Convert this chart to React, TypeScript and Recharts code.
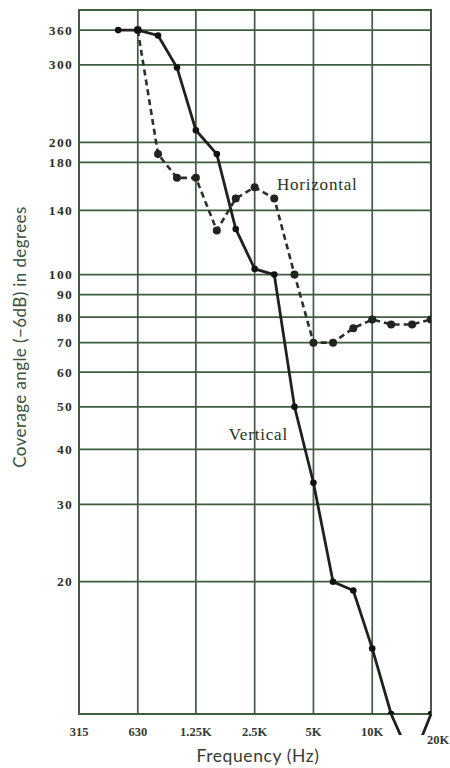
import React from 'react';
import { LineChart, Line, XAxis, YAxis, CartesianGrid, ReferenceArea, ReferenceDot } from 'recharts';

const frequencies = [500, 630, 800, 1000, 1250, 1600, 2000, 2500, 3150, 4000, 5000, 6300, 8000, 10000, 12500, 16000, 20000];
const verticalAngles = [360, 360, 350, 296, 213, 188, 127, 103, 100, 50, 33.6, 20, 19.1, 14.1, 10, 7.8, 10];
const horizontalAngles: (number | null)[] = [null, 360, 188, 166, 166, 126, 149, 158, 149, 100, 70, 70, 75.5, 79, 77, 77, 79];

const xTicks = [315, 630, 1250, 2500, 5000, 10000, 20000];
const xTickLabels = ['315', '630', '1.25K', '2.5K', '5K', '10K', '20K'];
const yTicks = [20, 30, 40, 50, 60, 70, 80, 90, 100, 140, 180, 200, 300, 360];

const xDomain = [315, 20000];
const yDomain = [10, 400];

const labelHorizontal = { f: 3250, angle: 161, text: 'Horizontal' };
const labelVertical = { f: 1840, angle: 43.4, text: 'Vertical' };

const data = frequencies.map((f, i) => ({ f, v: verticalAngles[i], h: horizontalAngles[i] }));

const GRID = '#3f5c3f';
const INK = '#1e211e';
const FONT = '"Liberation Serif", "DejaVu Serif", serif';
const TITLE_FONT = 'Lato, "Open Sans", sans-serif';

const XTick = (props: any) => {
  const { x, y, payload } = props;
  const idx = xTicks.indexOf(payload.value);
  const label = idx >= 0 ? xTickLabels[idx] : String(payload.value);
  const last = payload.value === 20000;
  return (
    <text x={x + (last ? 7 : 0)} y={y + (last ? 28 : 20)} textAnchor="middle" fontFamily={FONT} fontSize={12.5} fontWeight={700} fill="#333a33">
      {label}
    </text>
  );
};

const YTick = (props: any) => {
  const { x, y, payload } = props;
  return (
    <text x={x} y={y + 4.5} textAnchor="end" fontFamily={FONT} fontSize={13.5} fontWeight={700} fill="#2c332c" letterSpacing={1.3}>
      {payload.value}
    </text>
  );
};

const makeDot = (r: number, color: string) => (p: any) => {
  const key = `dot-${p.dataKey}-${p.index}`;
  if (p.cy == null || p.value == null || p.value < 10 || p.cx == null) return <g key={key} />;
  return <circle key={key} cx={p.cx} cy={p.cy} r={r} fill={color} stroke="none" />;
};

const textShape = (text: string) => (p: any) => (
  <text x={p.cx} y={p.cy + 6} textAnchor="start" fontFamily={FONT} fontSize={17} fill="#253325" letterSpacing={0.8}>
    {text}
  </text>
);

export default function App() {
  return (
    <div style={{ position: 'absolute', left: 0, top: 0, width: 450, height: 768, background: '#fff' }}>
      <svg width={1} height={1} style={{ position: 'absolute', left: 0, top: 0 }}>
        <defs>
          <clipPath id="stub-clip" clipPathUnits="userSpaceOnUse">
            <rect x={0} y={0} width={450} height={735} />
          </clipPath>
        </defs>
      </svg>
      <style>{`.recharts-line [clip-path], .recharts-line[clip-path], .recharts-line-curve { clip-path: url(#stub-clip) !important; }`}</style>
      <LineChart width={450} height={768} data={data} margin={{ top: 10, right: 19, bottom: 0, left: 0 }}>
        <CartesianGrid stroke={GRID} strokeWidth={1.7} />
        <XAxis
          dataKey="f"
          type="number"
          scale="log"
          domain={xDomain}
          ticks={xTicks}
          allowDataOverflow
          axisLine={false}
          tickLine={false}
          tickSize={0}
          height={54}
          tick={<XTick />}
          interval={0}
          label={{
            content: () => (
              <text x={258} y={762} textAnchor="middle" fontFamily={TITLE_FONT} fontSize={17.5} fill="#363c36" letterSpacing={0.6}>
                Frequency (Hz)
              </text>
            ),
          }}
        />
        <YAxis
          type="number"
          scale="log"
          domain={yDomain}
          ticks={yTicks}
          allowDataOverflow
          axisLine={false}
          tickLine={false}
          tickSize={0}
          tickMargin={6}
          width={79}
          tick={<YTick />}
          interval={0}
          label={{
            content: () => (
              <text x={26} y={337} transform="rotate(-90 26 337)" textAnchor="middle" fontFamily={TITLE_FONT} fontSize={17} fill="#3b523c" letterSpacing={0.4}>
                Coverage angle (−6dB) in degrees
              </text>
            ),
          }}
        />
        <ReferenceArea x1={xDomain[0]} x2={xDomain[1]} y1={yDomain[0]} y2={yDomain[1]} fill="none" stroke={GRID} strokeWidth={2} ifOverflow="visible" />
        <Line
          dataKey="h"
          type="linear"
          stroke="#2a302a"
          strokeWidth={2.6}
          strokeDasharray="6 4"
          dot={makeDot(4, '#1f241f')}
          isAnimationActive={false}
        />
        <Line
          dataKey="v"
          type="linear"
          stroke={INK}
          strokeWidth={2.8}
          dot={makeDot(3.3, '#111')}
          isAnimationActive={false}
        />
        <ReferenceDot x={labelHorizontal.f} y={labelHorizontal.angle} r={0} shape={textShape(labelHorizontal.text)} ifOverflow="visible" />
        <ReferenceDot x={labelVertical.f} y={labelVertical.angle} r={0} shape={textShape(labelVertical.text)} ifOverflow="visible" />
      </LineChart>
    </div>
  );
}
